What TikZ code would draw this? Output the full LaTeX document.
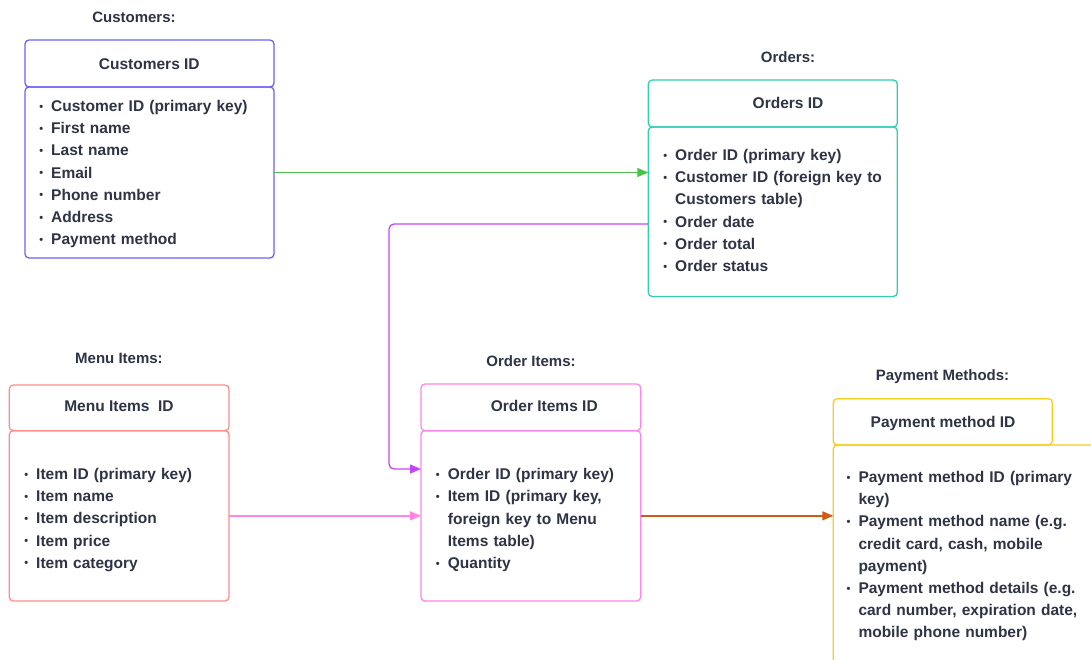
\documentclass[tikz,border=0pt]{standalone}
\usepackage{fontspec}
\setmainfont{Liberation Sans}
\usetikzlibrary{arrows.meta}

\definecolor{txt}{HTML}{2E3345}
\definecolor{cblue}{HTML}{6E62F2}
\definecolor{cteal}{HTML}{2ECFB2}
\definecolor{csalmon}{HTML}{FF8C8C}
\definecolor{cpink}{HTML}{FF85E6}
\definecolor{cyellow}{HTML}{F9CC1E}
\definecolor{agreen}{HTML}{4CC24C}
\definecolor{apurple}{HTML}{C744F5}
\definecolor{aorange}{HTML}{D35A14}

\newcommand\itm[1]{\par\noindent\strut\makebox[12pt][c]{\raisebox{1.5pt}{\fontsize{11}{11}\selectfont\textbullet}}\hspace{4pt}#1}
\newcommand\cnt[1]{\par\noindent\strut\hspace*{16pt}#1}

\begin{document}
\begin{tikzpicture}[x=1pt,y=-1pt,
    box/.style={draw,line width=1.3pt,rounded corners=4pt,inner sep=0pt,outer sep=0pt},
    conn/.style={line width=1.3pt,-{Triangle[length=11pt,width=9pt]}}]

        \useasboundingbox[fill=white] (0,0) rectangle (1091,659);

        \begin{scope}[every node/.style={box}]
          \node[cblue,minimum width=249pt,minimum height=47pt] (custH) at (149.5,63.5) {};
          \node[cblue,minimum width=249pt,minimum height=171pt] (custB) at (149.5,172.5) {};
          \node[cteal,minimum width=249pt,minimum height=47pt] (ordH) at (772.8,103.5) {};
          \node[cteal,minimum width=249pt,minimum height=169.5pt] (ordB) at (772.8,211.75) {};
          \node[csalmon,minimum width=219.7pt,minimum height=45.7pt] (menuH) at (119.15,407.85) {};
          \node[csalmon,minimum width=219.7pt,minimum height=170.3pt] (menuB) at (119.15,515.85) {};
          \node[cpink,minimum width=219.7pt,minimum height=46.7pt] (oiH) at (530.85,407.35) {};
          \node[cpink,minimum width=219.7pt,minimum height=170.3pt] (oiB) at (530.85,515.85) {};
          \node[cyellow,minimum width=219pt,minimum height=46.3pt] (payH) at (942.8,421.85) {};
          \node[cyellow,minimum width=286.7pt,minimum height=255pt] (payB) at (976.65,572.5) {};
        \end{scope}

        \begin{scope}[every node/.style={txt,inner sep=0pt,anchor=base,font=\fontsize{15}{18}\selectfont\bfseries}]
          \node (custT) at (134,22.5) {Customers:};
          \node (ordT) at (788,62.5) {Orders:};
          \node (menuT) at (119,363) {Menu Items:};
          \node (oiT) at (531,366.5) {Order Items:};
          \node (payT) at (942.5,380.5) {Payment Methods:};
        \end{scope}

        \begin{scope}[every node/.style={txt,inner sep=0pt,anchor=base,font=\fontsize{15.5}{18}\selectfont\bfseries}]
          \node (custID) at (149.3,69) {Customers ID};
          \node (ordID) at (788,108) {Orders ID};
          \node (menuID) at (119,411.7) {Menu Items\ \ ID};
          \node (oiID) at (544.3,411.7) {Order Items ID};
          \node (payID) at (943,427) {Payment method ID};
        \end{scope}

        \begin{scope}[every node/.style={txt,inner sep=0pt,anchor=north west,text width=270pt,align=left,
            font=\fontsize{15.5}{22.2}\selectfont\bfseries}]
          \node (custL) at (35,89.1) {\itm{Customer ID (primary key)}\itm{First name}\itm{Last name}\itm{Email}
            \itm{Phone number}\itm{Address}\itm{Payment method}};
          \node (ordL) at (659,138.1) {\itm{Order ID (primary key)}\itm{Customer ID (foreign key to}\cnt{Customers table)}
            \itm{Order date}\itm{Order total}\itm{Order status}};
          \node (menuL) at (20,457.1) {\itm{Item ID (primary key)}\itm{Item name}\itm{Item description}
            \itm{Item price}\itm{Item category}};
          \node (oiL) at (431.7,457.3) {\itm{Order ID (primary key)}\itm{Item ID (primary key,}\cnt{foreign key to Menu}
            \cnt{Items table)}\itm{Quantity}};
          \node (payL) at (842.3,460.1) {\itm{Payment method ID (primary}\cnt{key)}\itm{Payment method name (e.g.}
            \cnt{credit card, cash, mobile}\cnt{payment)}\itm{Payment method details (e.g.}
            \cnt{card number, expiration date,}\cnt{mobile phone number)}};
        \end{scope}

        \coordinate (pbend) at (389,469);

        \draw[conn,agreen] (custB.east) -- (custB.east -| ordB.west);
        \draw[conn,apurple,rounded corners=5pt] ([yshift=-12.25pt]ordB.west) -| (pbend) -- ([yshift=46.85pt]oiB.west);
        \draw[conn,cpink] (menuB.east) -- (oiB.west);
        \draw[conn,aorange] (oiB.east) -- (oiB.east -| payB.west);

      \end{tikzpicture}
\end{document}
